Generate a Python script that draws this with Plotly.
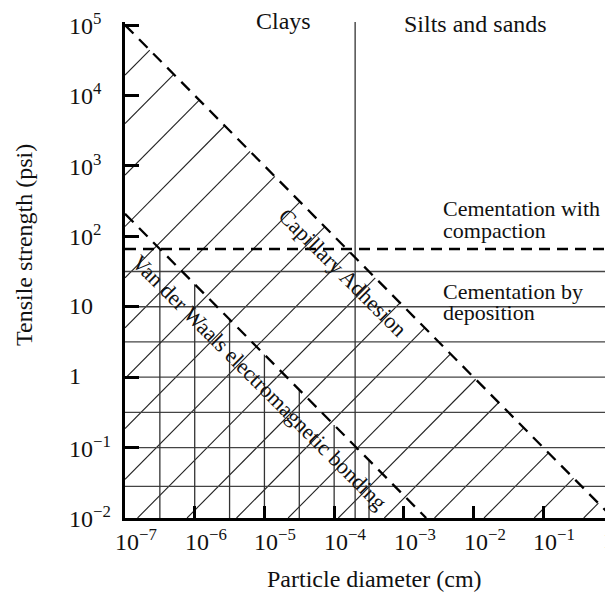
import plotly.graph_objects as go

# ---------------- data (log10 units) ----------------
X_TICK_LOG = [-7, -6, -5, -4, -3, -2, -1, 0]
X_TICK_TEXT = ["10<sup>−7</sup>", "10<sup>−6</sup>", "10<sup>−5</sup>", "10<sup>−4</sup>",
               "10<sup>−3</sup>", "10<sup>−2</sup>", "10<sup>−1</sup>", "1"]
Y_TICK_LOG = [-2, -1, 0, 1, 2, 3, 4, 5]
Y_TICK_TEXT = ["10<sup>−2</sup>", "10<sup>−1</sup>", "1", "10",
               "10<sup>2</sup>", "10<sup>3</sup>", "10<sup>4</sup>", "10<sup>5</sup>"]

X_MIN_LOG, X_MAX_LOG = -7, 0
Y_MIN_LOG, Y_MAX_LOG = -2, 5.043

# boundary lines: log10(strength) = C - log10(diameter)
CAPILLARY_C = -2.0
VDW_C = -4.68
COMPACTION_LOG = 1.82            # dashed "cementation with compaction" level
CLAY_SILT_BOUNDARY = 2e-4        # cm

# hatch lines: log10(strength) = log10(diameter) + offset
HATCH_OFFSETS = [11.29, 10.6, 9.87, 9.14, 8.41, 7.7, 6.98, 6.27, 5.55, 4.82,
                 4.11, 3.40, 2.66, 1.94, 1.28, 0.56, -0.15, -0.87, -1.58]
# horizontal "cementation by deposition" levels
DEPOSITION_LEVELS_LOG = [1.5, 1.0, 0.5, 0.0, -0.5, -1.0, -1.55]
# vertical van der Waals grid lines
VDW_VERTICALS_LOG = [-6.5, -6.0, -5.5, -5.0, -4.5, -4.0, -3.5]

FONT = "Liberation Serif"
OFF = 8                      # default page (body) margin
W, H = 605, 586
ML, MR, MT, MB = 117, 0, 14, 76
PW, PH = W - ML - MR, H - MT - MB


def px_x(px):
    """page pixel -> paper fraction"""
    return (px - OFF - ML) / PW


def px_y(py):
    return (H - MB - (py - OFF)) / PH


fig = go.Figure()

# hatch diagonals (from left/bottom axis up to the capillary line)
hx, hy = [], []
for k in HATCH_OFFSETS:
    if k + X_MIN_LOG >= Y_MIN_LOG:
        sx, sy = X_MIN_LOG, k + X_MIN_LOG
    else:
        sx, sy = Y_MIN_LOG - k, Y_MIN_LOG
    ex = (CAPILLARY_C - k) / 2
    ey = (CAPILLARY_C + k) / 2
    hx += [10 ** sx, 10 ** ex, None]
    hy += [10 ** sy, 10 ** ey, None]
fig.add_trace(go.Scatter(x=hx, y=hy, mode="lines",
                         line=dict(color="#222", width=1.1), hoverinfo="skip"))

# horizontal deposition lines
lx, ly = [], []
for lv in DEPOSITION_LEVELS_LOG:
    lx += [10 ** X_MIN_LOG, 10 ** X_MAX_LOG, None]
    ly += [10 ** lv, 10 ** lv, None]
fig.add_trace(go.Scatter(x=lx, y=ly, mode="lines",
                         line=dict(color="#444", width=1.3), hoverinfo="skip"))

# vertical lines up to the van der Waals boundary
vx, vy = [], []
for v in VDW_VERTICALS_LOG:
    vx += [10 ** v, 10 ** v, None]
    vy += [10 ** Y_MIN_LOG, 10 ** (VDW_C - v), None]
vx += [CLAY_SILT_BOUNDARY, CLAY_SILT_BOUNDARY, None]
vy += [10 ** Y_MIN_LOG, 10 ** Y_MAX_LOG, None]
fig.add_trace(go.Scatter(x=vx, y=vy, mode="lines",
                         line=dict(color="#333", width=1.3), hoverinfo="skip"))

# dashed boundaries
dash_diag = "12px,8px"
fig.add_trace(go.Scatter(
    x=[10 ** X_MIN_LOG, 10 ** (CAPILLARY_C - Y_MIN_LOG)],
    y=[10 ** (CAPILLARY_C - X_MIN_LOG), 10 ** Y_MIN_LOG],
    mode="lines", line=dict(color="black", width=2.3, dash=dash_diag), hoverinfo="skip"))
fig.add_trace(go.Scatter(
    x=[10 ** X_MIN_LOG, 10 ** (VDW_C - Y_MIN_LOG)],
    y=[10 ** (VDW_C - X_MIN_LOG), 10 ** Y_MIN_LOG],
    mode="lines", line=dict(color="black", width=2.3, dash=dash_diag), hoverinfo="skip"))
fig.add_trace(go.Scatter(
    x=[10 ** X_MIN_LOG, 10 ** X_MAX_LOG],
    y=[10 ** COMPACTION_LOG, 10 ** COMPACTION_LOG],
    mode="lines", line=dict(color="black", width=2.3, dash="11px,7px"), hoverinfo="skip"))

ann = []


def label(text, x, y, size, xanchor="center", textangle=0, xref="paper", yref="paper",
          xshift=0, yshift=0):
    ann.append(dict(x=x, y=y, xref=xref, yref=yref, text=text, showarrow=False,
                    xanchor=xanchor, yanchor="middle", textangle=textangle,
                    xshift=xshift, yshift=yshift,
                    font=dict(family=FONT, size=size, color="#111")))


# tick labels
for v, t in zip(X_TICK_LOG, X_TICK_TEXT):
    label(t, v, px_y(540), 24, xanchor="left", xref="x", xshift=-12)
for v, t in zip(Y_TICK_LOG, Y_TICK_TEXT):
    label(t, px_x(67), v, 24, xanchor="left", yref="y", yshift=1)

# axis titles
label("Particle diameter (cm)", px_x(374), px_y(579), 24)
label("Tensile strength (psi)", px_x(24), px_y(245), 24, textangle=-90)

# region labels
label("Clays", px_x(283), px_y(21), 24)
label("Silts and sands", px_x(475), px_y(24), 24)
for txt, yc in [("Cementation with", 208.5), ("compaction", 230.5),
                ("Cementation by", 291.5), ("deposition", 312.5)]:
    label(txt, px_x(441), px_y(yc), 22, xanchor="left")
label("Capillary Adhesion", px_x(343), px_y(272), 22, textangle=45)
label("Van der Waals electromagnetic bonding", px_x(260), px_y(382), 22, textangle=45)

axis_common = dict(showgrid=False, zeroline=False, showline=True, linecolor="black",
                   linewidth=3, ticks="inside", tickcolor="black", tickwidth=2.5,
                   showticklabels=False, mirror=False)

fig.update_layout(
    width=W, height=H,
    margin=dict(l=ML, r=MR, t=MT, b=MB, autoexpand=False),
    paper_bgcolor="white", plot_bgcolor="white",
    showlegend=False,
    xaxis=dict(type="log", range=[X_MIN_LOG, X_MAX_LOG],
               tickvals=[10 ** v for v in X_TICK_LOG], ticklen=12, **axis_common),
    yaxis=dict(type="log", range=[Y_MIN_LOG, Y_MAX_LOG],
               tickvals=[10 ** v for v in Y_TICK_LOG], ticklen=14, **axis_common),
    annotations=ann,
)

fig.write_html("out.html")
